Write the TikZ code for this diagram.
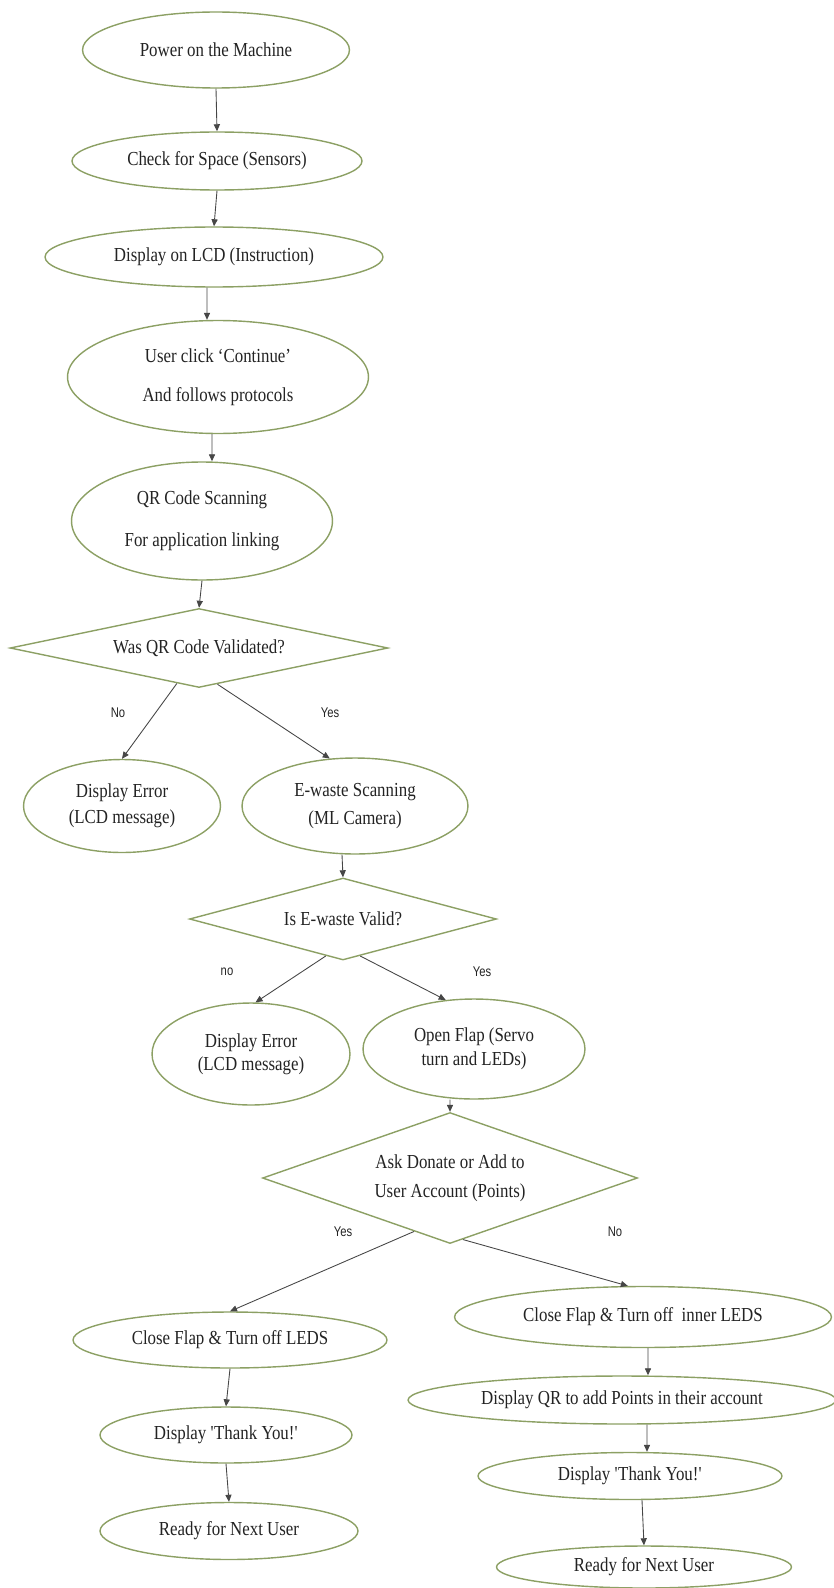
\documentclass[tikz,border=0pt]{standalone}
\usepackage{fontspec}
\setmainfont{Liberation Serif}[FakeStretch=0.85]
\newfontfamily\yesnofont{Liberation Sans}[FakeStretch=0.8]
\usetikzlibrary{shapes.geometric, arrows.meta}
\definecolor{olive}{RGB}{140,160,100}
\definecolor{inkgray}{RGB}{35,35,35}
\definecolor{wiregray}{RGB}{70,70,70}

\begin{document}
\begin{tikzpicture}[
    x=0.02cm, y=-0.02cm,
    oval/.style={draw=olive, line width=0.8pt, ellipse, inner sep=0pt, align=center, text=inkgray, font=\fontsize{11.3}{13}\selectfont},
    decide/.style={draw=olive, line width=0.8pt, diamond, shape aspect=3, inner sep=0pt, align=center, text=inkgray, font=\fontsize{11.3}{13}\selectfont},
    answer/.style={text=inkgray, font=\yesnofont\fontsize{8}{9}\selectfont},
    arrow/.style={-{Triangle[length=4pt, width=3.5pt]}, wiregray, line width=0.5pt}
]
\useasboundingbox (0,0) rectangle (834,1588);

% main column
\node[oval, minimum width=5.34cm, minimum height=1.52cm] (power) at (216, 50) {Power on the Machine};
\node[oval, minimum width=5.8cm, minimum height=1.16cm] (space) at (217, 161) {Check for Space (Sensors)};
\node[oval, minimum width=6.76cm, minimum height=1.2cm] (lcd) at (214, 257) {Display on LCD (Instruction)};
\node[oval, minimum width=6.02cm, minimum height=2.26cm] (cont) at (218, 377) {User click `Continue'\\[9pt]And follows protocols};
\node[oval, minimum width=5.22cm, minimum height=2.36cm] (qrscan) at (202, 521) {QR Code Scanning\\[11pt]For application linking};
\node[decide, minimum width=7.56cm, minimum height=1.58cm] (qrok) at (199, 648) {Was QR Code Validated?};

% QR branch
\node[oval, minimum width=3.94cm, minimum height=1.86cm] (errqr) at (122, 806) {Display Error\\[1.7pt](LCD message)};
\node[oval, minimum width=4.52cm, minimum height=1.92cm] (ewscan) at (355, 806) {E-waste Scanning\\[2.9pt](ML Camera)};
\node[decide, minimum width=6.14cm, minimum height=1.64cm] (ewok) at (343, 919) {Is E-waste Valid?};
\node[answer] (qrno) at (118, 713) {No};
\node[answer] (qryes) at (330, 713) {Yes};

% E-waste branch
\node[oval, minimum width=3.96cm, minimum height=2.04cm] (errew) at (251, 1054) {Display Error\\(LCD message)};
\node[oval, minimum width=4.44cm, minimum height=2.0cm] (flap) at (474, 1049) {Open Flap (Servo\\[0.6pt]turn and LEDs)};
\node[decide, minimum width=7.5cm, minimum height=2.62cm] (donate) at (450, 1178) {Ask Donate or Add to\\[3.4pt]User Account (Points)};
\node[answer] (ewno) at (227, 972) {no};
\node[answer] (ewyes) at (482, 972) {Yes};
\node[answer] (dyes) at (343, 1232) {Yes};
\node[answer] (dno) at (615, 1232) {No};

% donate side
\node[oval, minimum width=6.28cm, minimum height=1.12cm] (closel) at (230, 1340) {Close Flap \& Turn off LEDS};
\node[oval, minimum width=5.04cm, minimum height=1.12cm] (thanksl) at (226, 1435) {Display \textquotesingle Thank You!\textquotesingle};
\node[oval, minimum width=5.16cm, minimum height=1.14cm] (readyl) at (229, 1531) {Ready for Next User};

% points side
\node[oval, minimum width=7.54cm, minimum height=1.22cm] (closer) at (643, 1317) {Close Flap \& Turn off~~inner LEDS};
\node[oval, minimum width=8.56cm, minimum height=0.96cm] (showqr) at (622, 1400) {Display QR to add Points in their account};
\node[oval, minimum width=6.08cm, minimum height=0.94cm] (thanksr) at (630, 1476) {Display \textquotesingle Thank You!\textquotesingle};
\node[oval, minimum width=5.9cm, minimum height=0.84cm] (readyr) at (644, 1567) {Ready for Next User};

% arrows
\draw[arrow] (power.south) -- (space.north);
\draw[arrow] (space.south) -- (lcd.north);
\draw[arrow] ([xshift=-0.14cm]lcd.south) -- ([xshift=-0.22cm]cont.north);
\draw[arrow] ([xshift=-0.12cm]cont.south) -- ([xshift=0.2cm]qrscan.north);
\draw[arrow] (qrscan.south) -- (qrok.north);
\draw[arrow] (qrok.238) -- (errqr.north);
\draw[arrow] (qrok.297) -- (ewscan.118);
\draw[arrow] ([xshift=-0.26cm]ewscan.south) -- (ewok.north);
\draw[arrow] (ewok.245) -- (errew.85);
\draw[arrow] (ewok.295) -- (flap.120);
\draw[arrow] ([xshift=-0.48cm]flap.south) -- (donate.north);
\draw[arrow] (donate.236) -- (closel.north);
\draw[arrow] (donate.282) -- (closer.116);
\draw[arrow] (closel.south) -- (thanksl.north);
\draw[arrow] (thanksl.south) -- (readyl.north);
\draw[arrow] ([xshift=0.1cm]closer.south) -- ([xshift=0.52cm]showqr.north);
\draw[arrow] ([xshift=0.5cm]showqr.south) -- ([xshift=0.34cm]thanksr.north);
\draw[arrow] ([xshift=0.24cm]thanksr.south) -- (readyr.north);
\end{tikzpicture}
\end{document}
